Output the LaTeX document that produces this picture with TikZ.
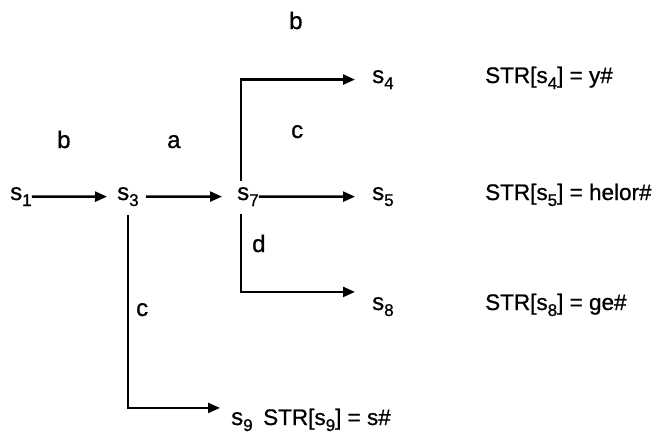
\documentclass[tikz,border=0pt]{standalone}
\usepackage{fontspec}
\setmainfont{Liberation Sans}[FakeBold=0.8]
\usetikzlibrary{arrows.meta}
\newcommand{\stsub}[1]{\raisebox{-6pt}{\fontsize{17}{17}\selectfont #1}}
\newcommand{\sname}[1]{s\stsub{#1}}
\begin{document}
\begin{tikzpicture}[x=1pt,y=-1pt]
		\tikzstyle{State} = [inner sep=0pt, anchor=base west, font=\fontsize{24}{28}\selectfont]
		\tikzstyle{Label} = [inner sep=0pt, anchor=base west, font=\fontsize{24}{28}\selectfont]
		\tikzstyle{Text} = [inner sep=0pt, anchor=base west, font=\fontsize{22.5}{27}\selectfont]
		\tikzstyle{Arrow} = [line width=2.4pt, -{Triangle[length=12pt,width=10pt]}]
		\useasboundingbox (0,0) rectangle (661,436);
		% states
		\node (s1) at (10,200) [State] {\sname{1}};
		\node (s3) at (117,200) [State] {\sname{3}};
		\node (s7) at (237,200) [State] {\sname{7}};
		\node (s4) at (372,83) [State] {\sname{4}};
		\node (s5) at (372,200) [State] {\sname{5}};
		\node (s8) at (372,310) [State] {\sname{8}};
		\node (s9) at (231,425) [State] {\sname{9}};
		% strings
		\node (str4) at (485,83) [Text] {STR[\sname{4}] = y\#};
		\node (str5) at (485,200) [Text] {STR[\sname{5}] = helor\#};
		\node (str8) at (485,310) [Text] {STR[\sname{8}] = ge\#};
		\node (str9) at (263,425) [Text] {STR[\sname{9}] = s\#};
		% edge labels
		\node (lb1) at (57,148) [Label] {b};
		\node (la) at (167,148) [Label] {a};
		\node (lb2) at (289,29) [Label] {b};
		\node (lc1) at (291,138) [Label] {c};
		\node (ld) at (252,252) [Label] {d};
		\node (lc2) at (136,316) [Label] {c};
		% edges
		\draw [Arrow, shorten >=10pt] (s1) -- (s3);
		\draw [Arrow, shorten <=7pt, shorten >=15pt] (s3) -- (s7);
		\draw [Arrow, shorten >=17pt] (s7) -- (s5);
		\draw [Arrow, shorten <=6pt, shorten >=17pt] ([xshift=4pt]s7.north west) |- (s4.west);
		\draw [Arrow, shorten <=8pt, shorten >=17pt] ([xshift=4pt]s7.south west) |- ([yshift=5pt]s8.north west);
		\draw [Arrow, shorten <=9pt, shorten >=11pt] (s3) |- ([yshift=4pt]s9.north west);
\end{tikzpicture}
\end{document}
